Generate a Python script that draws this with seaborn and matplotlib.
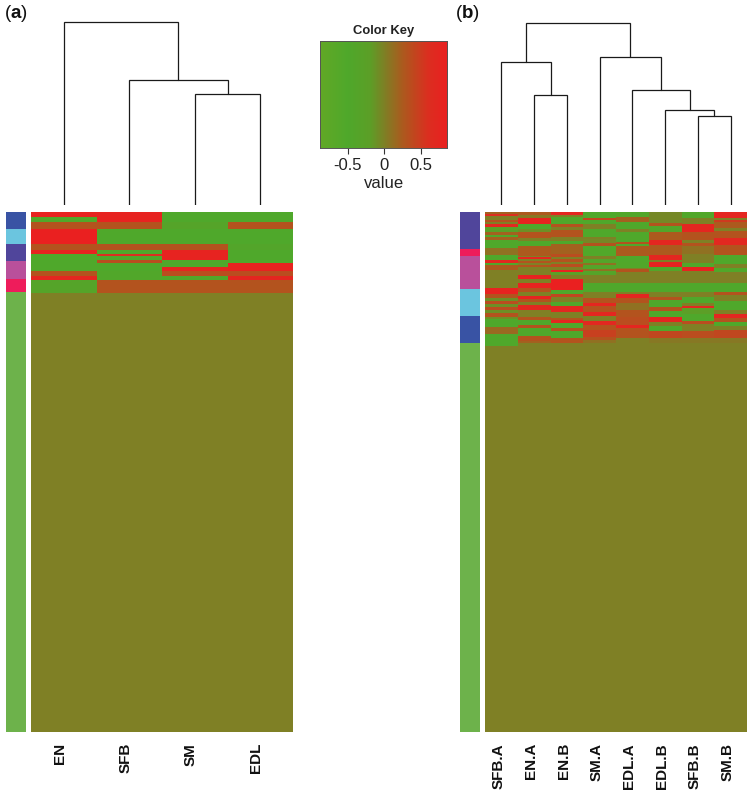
import numpy as np
import pandas as pd
import matplotlib
matplotlib.use("Agg")
import matplotlib.pyplot as plt
from matplotlib.colors import LinearSegmentedColormap, ListedColormap
from matplotlib.transforms import ScaledTranslation
import seaborn as sns

sns.set_theme(style="white")
plt.rcParams['font.family'] = ['Liberation Sans', 'DejaVu Sans']
plt.rcParams['mathtext.fontset'] = 'custom'
plt.rcParams['mathtext.bf'] = 'Liberation Sans:bold'

W, H = 750, 792
N_ROWS = 520

# panel a: row counts and one value list per tissue
a_labels = ['EN', 'SFB', 'SM', 'EDL']
a_counts = [5, 5, 7, 15, 6, 4, 2, 4, 3, 4, 4, 5, 4, 13]
a_en = [.8, -.55, .3, .85, .3, .8, -.5, -.5, -.5, -.5, -.5, .3, .75, -.35]
a_sfb = [.8, .8, .3, -.5, .3, -.5, .6, -.5, .35, -.5, -.5, -.45, -.45, .3]
a_sm = [-.5, -.5, -.35, -.5, .3, .8, .8, .8, -.5, -.5, .75, .35, -.45, .3]
a_edl = [-.5, -.5, .3, -.5, -.4, -.5, -.5, -.5, -.5, .8, .8, .35, .75, .3]

a_side_counts = [17, 15, 17, 18, 13, 440]
a_side_colors = ['#3953A4', '#6BC5DF', '#50459B', '#B9509B', '#EE1C5B', '#6DB24B']
a_merges = [(2, 3, 111), (1, 4, 125), (0, 5, 183)]

# panel b: (row count, value) runs per sample
b_labels = ['SFB.A', 'EN.A', 'EN.B', 'SM.A', 'EDL.A', 'EDL.B', 'SFB.B', 'SM.B']
sfb_a = [(2, .2), (2, .6), (4, 0), (2, .3), (2, 0), (3, .7), (5, -.25), (3, .2), (2, -.5), (3, .2), (8, -.5),
         (7, .1), (5, -.5), (3, .7), (2, -.4), (5, .25), (5, 0),
         (13, 0), (6, .8), (4, .3), (3, -.1), (3, .35), (3, -.1), (3, .35), (3, -.1), (2, .3), (2, .3), (2, -.1),
         (8, -.5), (7, .15), (12, -.5)]
en_a = [(3, .25), (3, .05), (6, .8), (5, -.5), (3, -.1), (6, .3), (3, 0), (5, -.5), (10, .25), (1, 0), (2, .75),
        (2, 0), (2, .3), (2, 0), (2, .3), (8, 0),
        (4, .8), (4, 0), (5, .8), (4, .3), (4, 0), (3, .8), (3, .3), (3, 0), (5, .7), (7, 0), (3, .3), (5, -.5),
        (3, .3), (8, -.5), (5, .3), (2, .2)]
en_b = [(3, .75), (2, 0), (7, -.5), (3, .3), (3, 0), (7, .3), (4, 0), (3, -.5), (10, .2), (3, .35), (2, 0), (3, .3),
        (2, 0), (3, .35), (3, 0), (2, .8), (3, -.2),
        (4, 0), (11, .85), (4, -.5), (3, .4), (5, 0), (4, -.5), (6, .7), (6, 0), (2, .3), (3, .75), (5, -.5),
        (3, .3), (7, -.5), (5, .3)]
sm_a = [(6, -.5), (2, .4), (4, -.5), (5, 0), (8, -.5), (2, 0), (4, -.05), (3, .3), (10, -.55), (3, 0), (4, -.4),
        (2, .1), (4, -.4), (2, .1), (4, -.35),
        (8, 0), (9, -.5), (6, 0), (5, .3), (3, .75), (6, .3), (4, .75), (5, 0), (4, .7), (5, .3), (7, .45),
        (3, .3), (3, .1)]
edl_a = [(5, -.45), (5, .2), (7, -.5), (3, 0), (10, -.5), (2, .3), (2, -.5), (10, .25), (6, -.5), (6, -.45), (1, 0),
         (3, .3), (3, 0),
         (8, 0), (9, -.5), (2, 0), (4, .75), (5, .3), (7, .1), (7, .3), (8, .35), (3, .75), (10, .3), (5, 0)]
edl_b = [(11, -.05), (3, .3), (6, -.4), (8, .25), (5, .75), (10, .25), (5, .75), (2, 0), (5, .8), (4, -.4), (4, 0),
         (8, 0), (9, -.5), (5, 0), (3, .3), (7, -.5), (4, .3), (6, -.5), (5, .75), (4, 0), (5, -.5), (7, .4), (5, .05)]
sfb_b = [(6, -.45), (6, 0), (8, .75), (8, .3), (3, 0), (3, .3), (8, .1), (9, 0), (4, -.45), (4, .8), (4, 0),
         (8, 0), (9, -.5), (5, 0), (6, -.5), (3, 0), (2, .7), (6, -.2), (7, -.5), (3, .35), (7, 0), (7, .35), (5, .05)]
sm_b = [(6, .75), (2, 0), (2, .5), (6, .25), (3, 0), (7, .3), (7, .7), (10, .3), (9, -.5), (4, 0), (4, -.45), (3, 0),
        (8, 0), (9, -.5), (3, .3), (6, 0), (9, -.5), (4, 0), (4, .75), (4, .3), (4, -.5), (4, 0), (8, .4), (5, .05)]

b_side_counts = [37, 7, 33, 27, 27, 389]
b_side_colors = ['#50459B', '#EE1C5B', '#B9509B', '#6BC5DF', '#3953A4', '#6DB24B']
b_merges = [(1, 2, 110), (0, 8, 143), (6, 7, 89), (5, 10, 95), (4, 11, 115), (3, 12, 148), (9, 13, 182)]

key_ticks = [-0.5, 0, 0.5]
key_min, key_max = -0.877, 0.863

node_vals = [-0.877, -0.5, -0.2, 0, 0.25, 0.6, 0.863]
node_cols = ['#62A926', '#4FA82B', '#5C9F27', '#7E8025', '#AC5A1E', '#DC2E20', '#EA2020']
nodes = [((v - key_min) / (key_max - key_min), c) for v, c in zip(node_vals, node_cols)]
cmap = LinearSegmentedColormap.from_list('key', nodes, N=256)


def px_axes(fig, x0, y0, x1, y1):
    # axes from pixel box, y counted from the top
    return fig.add_axes([x0 / W, 1 - y1 / H, (x1 - x0) / W, (y1 - y0) / H])


def expand(runs):
    counts = [r[0] for r in runs]
    vals = [r[1] for r in runs]
    col = np.repeat(vals, counts)
    return np.concatenate([col, np.zeros(N_ROWS - len(col))])


def draw_heat(ax, matrix, labels, shift):
    df = pd.DataFrame(matrix, columns=labels)
    sns.heatmap(df, cmap=cmap, vmin=key_min, vmax=key_max, cbar=False, yticklabels=False,
                linewidths=0, rasterized=True, ax=ax)
    ax.tick_params(axis='x', length=0, pad=8)
    offset = ScaledTranslation(shift / 100, 0, fig.dpi_scale_trans)
    for t in ax.get_xticklabels():
        t.set(rotation=90, fontsize=11, fontweight='bold', color='#111111', va='top')
        t.set_transform(t.get_transform() + offset)
    ax.set_xlabel('')
    ax.set_ylabel('')


def draw_side(ax, counts, colors):
    codes = np.repeat(np.arange(len(counts)), counts).reshape(-1, 1)
    sns.heatmap(codes, cmap=ListedColormap(colors), cbar=False, xticklabels=False, yticklabels=False,
                linewidths=0, rasterized=True, ax=ax)


def draw_dendro(ax, merges, n_leaves, top):
    # merges are (left node, right node, height); new nodes are numbered after the leaves
    pos = {i: (i + 0.5, 0) for i in range(n_leaves)}
    for k, (l, r, h) in enumerate(merges):
        xl, yl = pos[l]
        xr, yr = pos[r]
        ax.plot([xl, xl, xr, xr], [yl, h, h, yr], color='#1a1a1a', lw=0.9, solid_joinstyle='miter')
        pos[n_leaves + k] = ((xl + xr) / 2, h)
    ax.set_xlim(0, n_leaves)
    ax.set_ylim(0, top)
    ax.axis('off')


fig = plt.figure(figsize=(W / 100, H / 100), dpi=100)
fig.patch.set_facecolor('white')

# (a)
a_matrix = np.column_stack([np.concatenate([np.repeat(v, a_counts), np.zeros(N_ROWS - sum(a_counts))])
                            for v in (a_en, a_sfb, a_sm, a_edl)])
draw_heat(px_axes(fig, 31, 212, 293, 732), a_matrix, a_labels, -4)
draw_side(px_axes(fig, 6, 212, 26, 732), a_side_counts, a_side_colors)
draw_dendro(px_axes(fig, 31, 12, 293, 205), a_merges, 4, 193)

# (b)
b_matrix = np.column_stack([expand(c) for c in (sfb_a, en_a, en_b, sm_a, edl_a, edl_b, sfb_b, sm_b)])
draw_heat(px_axes(fig, 485, 212, 747, 732), b_matrix, b_labels, -3)
draw_side(px_axes(fig, 460, 212, 480, 732), b_side_counts, b_side_colors)
draw_dendro(px_axes(fig, 485, 12, 747, 205), b_merges, 8, 193)

# color key
ax_key = px_axes(fig, 320, 41, 447, 148)
grad = np.linspace(key_min, key_max, 256).reshape(1, -1)
ax_key.imshow(grad, cmap=cmap, vmin=key_min, vmax=key_max, aspect='auto',
              extent=[key_min, key_max, 0, 1])
ax_key.set_yticks([])
ax_key.set_xticks(key_ticks)
ax_key.set_xticklabels(['-0.5', '0', '0.5'], fontsize=12, color='#222222')
ax_key.tick_params(axis='x', length=4.5, width=0.8, color='#333333', pad=3, bottom=True)
ax_key.set_xlabel('value', fontsize=12, color='#222222', labelpad=2)
ax_key.set_title('Color Key', fontsize=9.4, fontweight='bold', color='#222222', pad=5)
for s in ax_key.spines.values():
    s.set_visible(True)
    s.set_color('#555555')
    s.set_linewidth(0.7)

fig.text(4 / W, 1 - 14 / H, r'($\mathbf{a}$)', fontsize=13.5, color='#111111', va='center')
fig.text(455 / W, 1 - 14 / H, r'($\mathbf{b}$)', fontsize=13.5, color='#111111', va='center')

fig.savefig('out.png', dpi=100)
